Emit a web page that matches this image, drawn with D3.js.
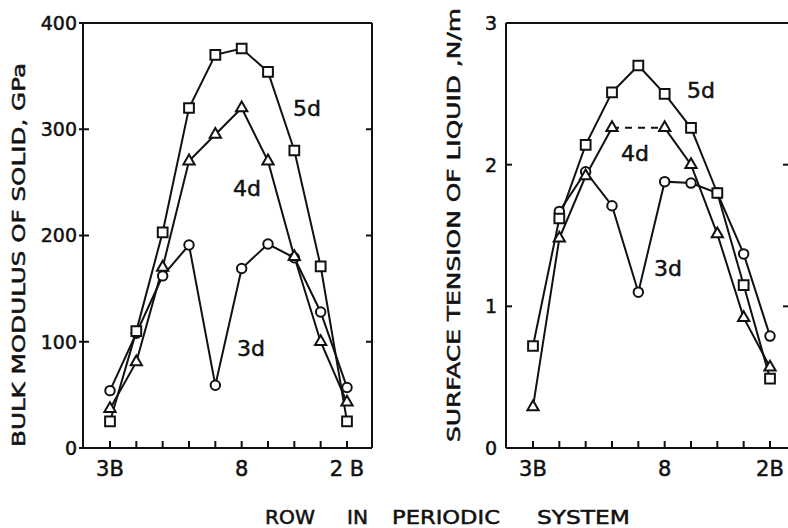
<!DOCTYPE html>
<html>
<head>
<meta charset="utf-8">
<script src="https://cdn.jsdelivr.net/npm/d3@7"></script>
<style>
  body { margin: 0; background: #fff; }
  text { font-family: "DejaVu Sans", sans-serif; fill: #111; stroke: #111; stroke-width: 0.5px; }
</style>
</head>
<body>
<div id="chart"></div>
<script>
// periodic rows along x
const rows = ["3B", "4B", "5B", "6B", "7B", "8", "8", "8", "1B", "2B"];
const rowLabelsLeft = { 0: "3B", 5: "8", 9: "2 B" };
const rowLabelsRight = { 0: "3B", 5: "8", 9: "2B" };

// bulk modulus of solid, GPa
const bulk3d = [54, 108, 162, 191, 59, 169, 192, 179, 128, 57];
const bulk4d = [37, 81, 170, 270, 295, 320, 270, 180, 100, 43];
const bulk5d = [25, 110, 203, 320, 370, 376, 354, 280, 171, 25];
const bulkTicks = [0, 100, 200, 300, 400];

// surface tension of liquid, N/m
const tens3d = [null, 1.67, 1.95, 1.71, 1.10, 1.88, 1.87, 1.80, 1.37, 0.79];
const tens4d = [0.29, 1.48, 1.92, 2.26, null, 2.26, 2.00, 1.51, 0.92, 0.57];
const tens5d = [0.72, 1.62, 2.14, 2.51, 2.70, 2.50, 2.26, 1.80, 1.15, 0.49];
const tensTicks = [0, 1, 2, 3];

// x title words: text, start, width
const xTitle = [["ROW", 265, 50], ["IN", 347, 21], ["PERIODIC", 392, 108], ["SYSTEM", 537, 93]];

const W = 788, H = 528;
const svg = d3.select("#chart").append("svg")
  .attr("width", W)
  .attr("height", H);

const ink = "#111";

function panel(cfg) {
  const g = svg.append("g");
  const x = d3.scalePoint().domain(d3.range(rows.length)).range([cfg.x0, cfg.x1]);
  const y = d3.scaleLinear().domain(cfg.domain).range([448, 23]);

  // frame
  g.append("line").attr("x1", cfg.left).attr("x2", cfg.left).attr("y1", 23).attr("y2", 448);
  g.append("line").attr("x1", cfg.left).attr("x2", cfg.right).attr("y1", 448).attr("y2", 448);
  g.append("line").attr("x1", cfg.left).attr("x2", cfg.right).attr("y1", 23).attr("y2", 23);
  g.append("line").attr("x1", cfg.right).attr("x2", cfg.right).attr("y1", 23).attr("y2", 448);
  g.selectAll("line").attr("stroke", ink).attr("stroke-width", 2);

  // y ticks
  const yt = g.selectAll(".yt").data(cfg.ticks).enter();
  yt.append("line")
    .attr("x1", cfg.left + cfg.tickOut).attr("x2", cfg.left + 6)
    .attr("y1", d => y(d)).attr("y2", d => y(d))
    .attr("stroke", ink).attr("stroke-width", 2);
  yt.append("line")
    .attr("x1", cfg.right - 6).attr("x2", cfg.right)
    .attr("y1", d => y(d)).attr("y2", d => y(d))
    .attr("stroke", ink).attr("stroke-width", 2);
  yt.append("text")
    .attr("x", cfg.left - cfg.labelGap).attr("y", d => y(d))
    .attr("dy", "0.36em").attr("text-anchor", "end")
    .attr("font-size", 19)
    .text(d => d);

  // x ticks
  g.selectAll(".xt").data(rows.map((r, i) => i)).enter()
    .append("line")
    .attr("x1", d => x(d)).attr("x2", d => x(d))
    .attr("y1", 448).attr("y2", 441)
    .attr("stroke", ink).attr("stroke-width", 2);
  g.selectAll(".xl").data(Object.keys(cfg.rowLabels)).enter()
    .append("text")
    .attr("x", d => x(+d)).attr("y", 468)
    .attr("dy", "0.36em")
    .attr("text-anchor", "middle")
    .attr("font-size", 21)
    .text(d => cfg.rowLabels[d]);

  // y title
  g.append("text")
    .attr("transform", `translate(${cfg.titleX},${cfg.titleY}) rotate(-90)`)
    .attr("text-anchor", "middle")
    .attr("font-size", 18)
    .attr("textLength", cfg.titleLen)
    .attr("lengthAdjust", "spacingAndGlyphs")
    .text(cfg.title);

  const line = d3.line()
    .defined(d => d != null)
    .x((d, i) => x(i))
    .y(d => y(d));

  cfg.series.forEach(s => {
    g.append("path")
      .datum(s.values)
      .attr("d", line)
      .attr("fill", "none")
      .attr("stroke", ink)
      .attr("stroke-width", 2);
    if (s.dashFrom != null) {
      const a = s.dashFrom, b = s.dashTo;
      g.append("line")
        .attr("x1", x(a)).attr("y1", y(s.values[a]))
        .attr("x2", x(b)).attr("y2", y(s.values[b]))
        .attr("stroke", ink).attr("stroke-width", 2)
        .attr("stroke-dasharray", "7,6");
    }
  });

  cfg.series.forEach(s => {
    const pts = s.values.map((v, i) => ({ i, v })).filter(d => d.v != null);
    g.selectAll(null).data(pts).enter()
      .append("path")
      .attr("transform", d => `translate(${x(d.i)},${y(d.v)})`)
      .attr("d", d3.symbol().type(s.symbol).size(s.size))
      .attr("fill", "#fff")
      .attr("stroke", ink)
      .attr("stroke-width", 2);
  });

  cfg.names.forEach(n => {
    g.append("text")
      .attr("x", n.x).attr("y", n.y)
      .attr("dy", "0.36em")
      .attr("font-size", 22)
      .text(n.text);
  });
}

panel({
  left: 83, right: 372, x0: 110, x1: 347,
  domain: [0, 400], ticks: bulkTicks, tickOut: -4, labelGap: 6,
  rowLabels: rowLabelsLeft,
  title: "BULK MODULUS OF SOLID, GPa", titleX: 25, titleY: 255, titleLen: 384,
  series: [
    { values: bulk3d, symbol: d3.symbolCircle, size: 70 },
    { values: bulk4d, symbol: d3.symbolTriangle, size: 55 },
    { values: bulk5d, symbol: d3.symbolSquare, size: 95 }
  ],
  names: [
    { text: "5d", x: 293, y: 108 },
    { text: "4d", x: 233, y: 188 },
    { text: "3d", x: 237, y: 348 }
  ]
});

panel({
  left: 506, right: 789, x0: 533, x1: 770,
  domain: [0, 3], ticks: tensTicks, tickOut: 0, labelGap: 9,
  rowLabels: rowLabelsRight,
  title: "SURFACE TENSION OF LIQUID ,N/m", titleX: 460, titleY: 225, titleLen: 434,
  series: [
    { values: tens3d, symbol: d3.symbolCircle, size: 70 },
    { values: tens4d, symbol: d3.symbolTriangle, size: 55, dashFrom: 3, dashTo: 5 },
    { values: tens5d, symbol: d3.symbolSquare, size: 95 }
  ],
  names: [
    { text: "5d", x: 687, y: 90 },
    { text: "4d", x: 621, y: 153 },
    { text: "3d", x: 654, y: 268 }
  ]
});

svg.selectAll(".xtitle").data(xTitle).enter()
  .append("text")
  .attr("x", d => d[1]).attr("y", 517)
  .attr("dy", "0.36em")
  .attr("font-size", 19)
  .attr("textLength", d => d[2])
  .attr("lengthAdjust", "spacingAndGlyphs")
  .text(d => d[0]);
</script>
</body>
</html>
